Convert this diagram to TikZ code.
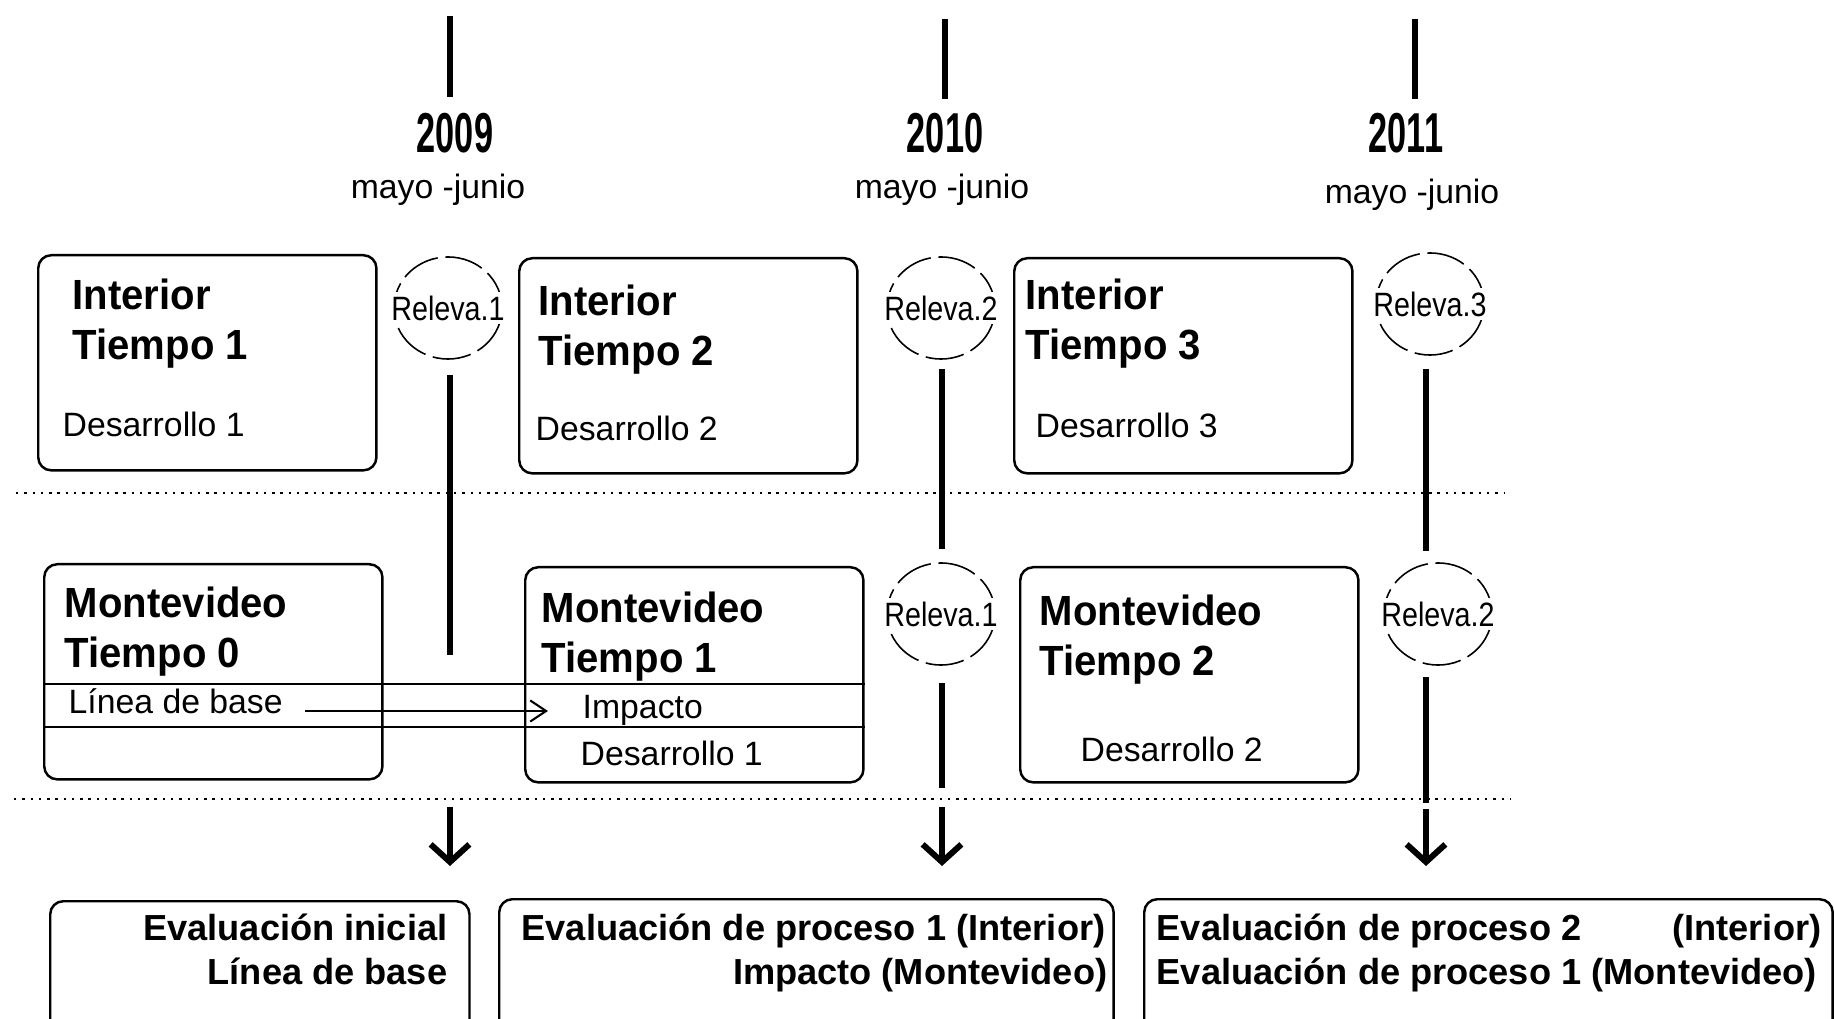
\documentclass[tikz,border=0pt]{standalone}
\usepackage{fontspec}
\setmainfont{Liberation Sans}
\newfontfamily\ttlfont[FakeStretch=0.95]{Liberation Sans}
\newfontfamily\yearfont[FakeStretch=0.61]{Liberation Sans}
\newfontfamily\relfont[FakeStretch=0.85]{Liberation Sans}
\usetikzlibrary{arrows.meta,shapes.geometric}

\begin{document}
\begin{tikzpicture}[x=0.01cm,y=-0.01cm,
  tbox/.style={draw,line width=0.7pt,rounded corners=0.13cm,anchor=north west,
    minimum width=3.38cm,minimum height=2.15cm,inner sep=0pt},
  evalbox/.style={draw,line width=0.7pt,rounded corners=0.13cm,anchor=north west,
    minimum height=2.2cm,inner sep=0pt},
  releva/.style={draw,ellipse,line width=0.45pt,dash pattern=on 11pt off 2.2pt,
    minimum width=1.08cm,minimum height=1.02cm,inner sep=0pt},
  reltext/.style={font=\relfont\fontsize{9.6}{11}\selectfont,fill=white,inner sep=1pt},
  ttl/.style={font=\ttlfont\bfseries\fontsize{12}{14}\selectfont,inner sep=0pt,anchor=base west},
  txt/.style={font=\fontsize{9.6}{11}\selectfont,inner sep=0pt,anchor=base west},
  evtxt/.style={font=\bfseries\fontsize{10.3}{12}\selectfont,inner sep=0pt},
  yr/.style={font=\yearfont\bfseries\fontsize{16}{18}\selectfont,inner sep=0pt,anchor=base},
  mes/.style={font=\fontsize{9.6}{11}\selectfont,inner sep=0pt,anchor=base},
  vline/.style={line width=1.7pt},
  yeartick/.style={line width=1.7pt},
  dotline/.style={line width=0.7pt,dash pattern=on 0.7pt off 1.65pt},
  rowline/.style={line width=0.7pt},
  downarrow/.style={line width=1.7pt,-{Straight Barb[length=5pt,width=11pt]}},
  basearrow/.style={line width=0.6pt,-{Straight Barb[length=4.5pt,width=6pt]}}]

  \useasboundingbox[fill=white] (0,0) rectangle (1834,1019);

  \node[yr] (y09) at (455,153) {2009};
  \node[yr] (y10) at (945,153) {2010};
  \node[yr] (y11) at (1406,153) {2011};
  \node[mes] (my09) at (438,199) {mayo -junio};
  \node[mes] (my10) at (942,199) {mayo -junio};
  \node[mes] (my11) at (1412,204) {mayo -junio};

  \coordinate (t09) at (450,16);
  \coordinate (t10) at (945,19);
  \coordinate (t11) at (1415,19);
  \draw[yeartick,shorten >=0.16cm] (t09) -- (t09 |- y09.north);
  \draw[yeartick,shorten >=0.14cm] (t10) -- (t10 |- y10.north);
  \draw[yeartick,shorten >=0.14cm] (t11) -- (t11 |- y11.north);

  \draw[dotline] (16,493) -- (1505,493);
  \draw[dotline] (14,799) -- (1511,799);

  \node[tbox] (i1) at (37,254) {};
  \node[tbox] (i2) at (518,257) {};
  \node[tbox] (i3) at (1013,257) {};
  \node[ttl] (i1a) at (72,310) {Interior};
  \node[ttl] (i1b) at (72,360) {Tiempo 1};
  \node[txt] (i1c) at (62,437) {Desarrollo 1};
  \node[ttl] (i2a) at (538,316) {Interior};
  \node[ttl] (i2b) at (538,366) {Tiempo 2};
  \node[txt] (i2c) at (535,441) {Desarrollo 2};
  \node[ttl] (i3a) at (1025,310) {Interior};
  \node[ttl] (i3b) at (1025,360) {Tiempo 3};
  \node[txt] (i3c) at (1035,438) {Desarrollo 3};

  \node[tbox] (m0) at (43,563) {};
  \node[tbox] (m1) at (524,566) {};
  \node[tbox] (m2) at (1019,566) {};
  \node[ttl] (m0a) at (64,617) {Montevideo};
  \node[ttl] (m0b) at (64,667) {Tiempo 0};
  \node[txt] (lb) at (68,713) {Línea de base};
  \node[ttl] (m1a) at (541,622) {Montevideo};
  \node[ttl] (m1b) at (541,672) {Tiempo 1};
  \node[txt] (imp) at (582,718) {Impacto};
  \node[txt] (m1c) at (580,765) {Desarrollo 1};
  \node[ttl] (m2a) at (1039,625) {Montevideo};
  \node[ttl] (m2b) at (1039,675) {Tiempo 2};
  \node[txt] (m2c) at (1080,761) {Desarrollo 2};

  \coordinate (rowa) at (0,684);
  \coordinate (rowb) at (0,727);
  \coordinate (arr) at (0,711);
  \draw[rowline] (m0.west |- rowa) -- (m1.east |- rowa);
  \draw[rowline] (m0.west |- rowb) -- (m1.east |- rowb);
  \draw[basearrow,shorten <=0.22cm,shorten >=0.34cm] (lb.east |- arr) -- (imp.west |- arr);

  \node[releva,label={[reltext]center:Releva.1}] (r1a) at (448,308) {};
  \node[releva,label={[reltext]center:Releva.2}] (r2a) at (941,308) {};
  \node[releva,label={[reltext]center:Releva.3}] (r3a) at (1430,304) {};
  \node[releva,label={[reltext]center:Releva.1}] (r1b) at (941,614) {};
  \node[releva,label={[reltext]center:Releva.2}] (r2b) at (1438,614) {};

  \coordinate (l1) at (450,655);
  \coordinate (l2) at (942,788);
  \coordinate (l3) at (1426,803);
  \draw[vline,shorten <=0.15cm] (r1a.south -| l1) -- (l1);
  \draw[vline,shorten <=0.09cm,shorten >=0.13cm] (r2a.south -| l2) -- (r1b.north -| l2);
  \draw[vline,shorten <=0.17cm] (r1b.south -| l2) -- (l2);
  \draw[vline,shorten <=0.13cm,shorten >=0.11cm] (r3a.south -| l3) -- (r2b.north -| l3);
  \draw[vline,shorten <=0.11cm] (r2b.south -| l3) -- (l3);

  \node[evalbox,minimum width=4.19cm] (e1) at (49,900) {};
  \node[evalbox,minimum width=6.14cm] (e2) at (498,898) {};
  \node[evalbox,minimum width=6.88cm] (e3) at (1143,898) {};
  \node[evtxt,anchor=base east] (e1a) at (448,940) {Evaluación inicial};
  \node[evtxt,anchor=base east] (e1b) at (448,984) {Línea de base};
  \node[evtxt,anchor=base east] (e2a) at (1106,940) {Evaluación de proceso 1 (Interior)};
  \node[evtxt,anchor=base east] (e2b) at (1108,984) {Impacto (Montevideo)};
  \node[evtxt,anchor=base west] (e3a) at (1156,940) {Evaluación de proceso 2};
  \node[evtxt,anchor=base east] (e3b) at (1822,940) {(Interior)};
  \node[evtxt,anchor=base west] (e3c) at (1156,984) {Evaluación de proceso 1 (Montevideo)};

  \coordinate (a1) at (450,807);
  \coordinate (a2) at (942,807);
  \coordinate (a3) at (1426,809);
  \draw[downarrow,shorten >=0.34cm] (a1) -- (a1 |- e1.north);
  \draw[downarrow,shorten >=0.32cm] (a2) -- (a2 |- e2.north);
  \draw[downarrow,shorten >=0.32cm] (a3) -- (a3 |- e3.north);

\end{tikzpicture}
\end{document}
